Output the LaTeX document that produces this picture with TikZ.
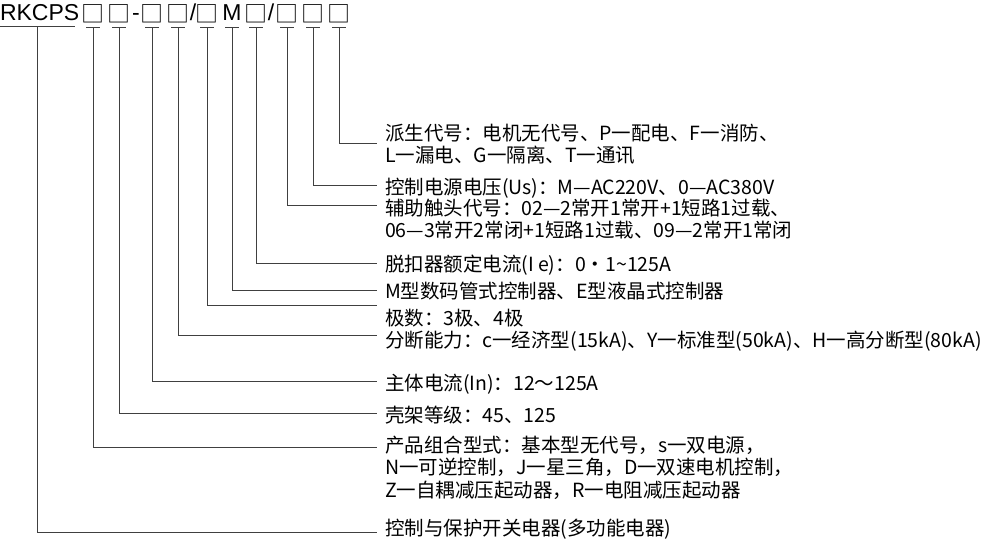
\documentclass[tikz,border=0pt]{standalone}
\usepackage{fontspec}
\setmainfont{Noto Sans CJK SC}
\newfontfamily\latin{Liberation Sans}
\usetikzlibrary{positioning}
\tikzset{
  every node/.style={inner sep=0pt, outer sep=0pt},
  lead/.style={draw=black!75, line width=0.9pt},
  desc/.style={anchor=west, align=left, font=\fontsize{19.5}{22.5}\selectfont},
  code/.style={font=\latin\fontsize{23}{23}\selectfont, anchor=base},
  box/.style={font=\fontsize{23}{23}\selectfont, anchor=base},
}
\begin{document}
\begin{tikzpicture}[x=1pt, y=-1pt]
  \useasboundingbox (0,0) rectangle (1000,550);
  % model code on top
  \node[code, anchor=base west] (rk) at (0,20) {RKCPS};
  \foreach \n/\x in {b1/93, b2/119, b3/152, b4/178, b5/207, b7/256, b8/287, b9/313, b10/339}
    \node[box] (\n) at (\x,22) {□};
  \node[code] (b6) at (232,20) {M};
  \node[code] (d1) at (136,20) {-};
  \node[code] (s1) at (193,20) {/};
  \node[code] (s2) at (271,20) {/};

  % explanations
  \node[desc, anchor=north west] (t10) at (385,124) {派生代号：电机无代号、P一配电、F一消防、\\L一漏电、G一隔离、T一通讯};
  \node[desc] (t9) at (385,188) {控制电源电压(Us)：M—AC220V、0—AC380V};
  \node[desc, anchor=north west] (t8) at (385,199) {辅助触头代号：02—2常开1常开+1短路1过载、\\06—3常开2常闭+1短路1过载、09—2常开1常闭};
  \node[desc] (t7) at (385,265) {脱扣器额定电流(I e)：0・1\textasciitilde125A};
  \node[desc] (t6) at (385,291) {M型数码管式控制器、E型液晶式控制器};
  \node[desc] (t5) at (385,318) {极数：3极、4极};
  \node[desc] (t4) at (385,341) {分断能力：c一经济型(15kA)、Y一标准型(50kA)、H一高分断型(80kA)};
  \node[desc] (t3) at (385,384) {主体电流(In)：12～125A};
  \node[desc] (t2) at (385,415) {壳架等级：45、125};
  \node[desc, anchor=north west] (t1) at (385,436) {产品组合型式：基本型无代号，s一双电源，\\N一可逆控制，J一星三角，D一双速电机控制，\\Z一自耦减压起动器，R一电阻减压起动器};
  \node[desc] (t0) at (385,529) {控制与保护开关电器(多功能电器)};

  % leader lines
  \draw[lead] (0,26) -- (75,26);
  \coordinate (k0) at (37,26);
  \foreach \n/\x in {1/93, 2/119, 3/152, 4/178, 5/207, 6/232, 7/256, 8/287, 9/313, 10/339} {
    \coordinate (k\n) at (\x,27);
    \draw[lead] ([xshift=-7pt]k\n) -- ([xshift=7pt]k\n);
  }
  \foreach \n/\y in {0/532, 1/447, 2/413, 3/381, 4/335, 5/305, 6/290, 7/263, 8/205, 9/185, 10/143} {
    \coordinate (e\n) at (377,\y);
    \draw[lead] (k\n) |- (e\n);
  }
\end{tikzpicture}
\end{document}
